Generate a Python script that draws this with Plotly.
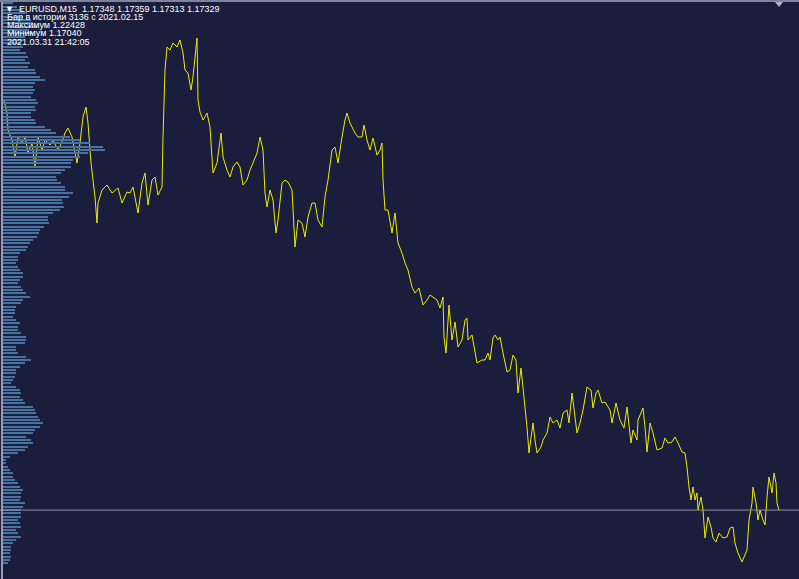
import plotly.graph_objects as go

# ---- price line (EURUSD M15), bar index vs close ----
bars = [4, 7, 8, 12, 15, 18, 22, 25, 28, 32, 35, 38, 42, 45, 50, 53, 58, 62, 65, 68,
        72, 75, 77, 80, 83, 86, 88, 91, 93, 95, 97, 98, 102, 107, 112, 115, 118, 122, 127, 130,
        133, 138, 142, 145, 148, 152, 155, 158, 162, 163, 165, 167, 170, 173, 177, 180, 183, 185, 188, 191,
        193, 197, 198, 200, 203, 207, 210, 213, 217, 221, 223, 227, 230, 233, 237, 240, 243, 247, 250, 253,
        257, 260, 263, 265, 267, 270, 273, 276, 278, 282, 285, 288, 292, 295, 298, 302, 305, 308, 312, 315,
        318, 322, 325, 328, 332, 335, 338, 342, 345, 347, 350, 355, 358, 362, 364, 367, 370, 373, 377, 380,
        382, 383, 385, 388, 392, 395, 398, 402, 405, 408, 412, 415, 419, 423, 427, 430, 433, 437, 440, 443,
        444, 446, 449, 452, 455, 458, 462, 465, 467, 468, 472, 475, 477, 482, 485, 488, 490, 493, 495, 498,
        500, 503, 507, 510, 513, 516, 518, 521, 523, 525, 527, 529, 532, 533, 535, 537, 541, 543, 547, 550,
        553, 557, 560, 563, 567, 569, 572, 575, 577, 580, 583, 587, 591, 593, 596, 598, 602, 605, 610, 612,
        616, 620, 624, 627, 631, 633, 637, 638, 643, 645, 647, 650, 653, 657, 662, 665, 668, 672, 675, 678,
        682, 685, 687, 689, 691, 693, 695, 697, 698, 701, 703, 705, 708, 711, 713, 716, 719, 723, 727, 730,
        733, 735, 738, 742, 745, 747, 749, 752, 753, 756, 758, 760, 763, 765, 767, 769, 772, 774, 776, 777,
        779]
close = [1.2143, 1.2130, 1.2113, 1.2103, 1.2086, 1.2106, 1.2100, 1.2106, 1.2090, 1.2100, 1.2076, 1.2106, 1.2093, 1.2103, 1.2098, 1.2103, 1.2093, 1.2101, 1.2110, 1.2115,
         1.2106, 1.2090, 1.2080, 1.2100, 1.2126, 1.2136, 1.2120, 1.2080, 1.2063, 1.2046, 1.2020, 1.2040, 1.2053, 1.2058, 1.2050, 1.2053, 1.2055, 1.2040, 1.2051, 1.2050,
         1.2056, 1.2030, 1.2060, 1.2070, 1.2038, 1.2063, 1.2066, 1.2048, 1.2056, 1.2106, 1.2173, 1.2196, 1.2193, 1.2200, 1.2196, 1.2203, 1.2190, 1.2173, 1.2170, 1.2153,
         1.2166, 1.2205, 1.2143, 1.2131, 1.2123, 1.2130, 1.2116, 1.2070, 1.2080, 1.2110, 1.2086, 1.2073, 1.2066, 1.2076, 1.2081, 1.2076, 1.2058, 1.2063, 1.2073, 1.2080,
         1.2090, 1.2106, 1.2093, 1.2050, 1.2036, 1.2053, 1.2043, 1.2010, 1.2023, 1.2060, 1.2063, 1.2061, 1.2053, 1.1996, 1.2023, 1.2020, 1.2006, 1.2026, 1.2040, 1.2040,
         1.2023, 1.2016, 1.2046, 1.2063, 1.2093, 1.2096, 1.2080, 1.2106, 1.2123, 1.2130, 1.2120, 1.2110, 1.2106, 1.2106, 1.2118, 1.2103, 1.2093, 1.2105, 1.2088, 1.2093,
         1.2100, 1.2063, 1.2033, 1.2033, 1.2010, 1.2030, 1.2000, 1.1990, 1.1980, 1.1973, 1.1956, 1.1950, 1.1955, 1.1938, 1.1943, 1.1948, 1.1946, 1.1943, 1.1935, 1.1946,
         1.1906, 1.1890, 1.1938, 1.1903, 1.1921, 1.1896, 1.1903, 1.1923, 1.1925, 1.1903, 1.1908, 1.1890, 1.1880, 1.1883, 1.1883, 1.1890, 1.1883, 1.1905, 1.1908, 1.1903,
         1.1906, 1.1890, 1.1871, 1.1873, 1.1888, 1.1883, 1.1850, 1.1875, 1.1856, 1.1841, 1.1816, 1.1790, 1.1810, 1.1820, 1.1803, 1.1790, 1.1796, 1.1803, 1.1810, 1.1826,
         1.1820, 1.1823, 1.1815, 1.1830, 1.1833, 1.1820, 1.1850, 1.1826, 1.1810, 1.1820, 1.1833, 1.1856, 1.1853, 1.1835, 1.1850, 1.1853, 1.1840, 1.1841, 1.1833, 1.1820,
         1.1840, 1.1823, 1.1815, 1.1836, 1.1800, 1.1813, 1.1803, 1.1823, 1.1835, 1.1816, 1.1791, 1.1820, 1.1810, 1.1793, 1.1795, 1.1805, 1.1800, 1.1801, 1.1806, 1.1800,
         1.1791, 1.1790, 1.1776, 1.1756, 1.1743, 1.1756, 1.1743, 1.1750, 1.1733, 1.1746, 1.1733, 1.1705, 1.1726, 1.1716, 1.1705, 1.1701, 1.1710, 1.1705, 1.1706, 1.1715,
         1.1716, 1.1700, 1.1690, 1.1681, 1.1688, 1.1693, 1.1723, 1.1740, 1.1756, 1.1740, 1.1723, 1.1733, 1.1723, 1.1718, 1.1746, 1.1766, 1.1750, 1.1770, 1.1760, 1.1740,
         1.17329]

# ---- volume profile (top level downward) ----
profile_top = 1.22397
profile_step = 0.00033333
volumes = [10, 14, 20, 24, 20, 28, 30, 34, 26, 30, 22, 20,
           18, 20, 17, 23, 25, 22, 27, 25, 32, 33, 37, 42, 32, 30, 32, 30, 28, 33, 35, 32,
           33, 28, 28, 32, 33, 42, 48, 53, 67, 77, 87, 100, 102, 85, 77, 70, 68, 68, 62, 58,
           53, 54, 58, 62, 62, 70, 66, 59, 60, 61, 57, 50, 45, 45, 46, 41, 37, 36, 34,
           30, 27, 25, 23, 17, 15, 15, 13, 15, 17, 20, 20, 17, 15, 18, 20, 23, 27, 20, 18,
           13, 12, 12, 10, 13, 17, 15, 15, 18, 23, 23, 22, 13, 13, 15, 23, 28, 22, 17, 13,
           13, 12, 10, 8, 13, 17, 18, 17,
           20, 22, 30, 32, 33, 35, 37, 40, 37, 32, 30, 23, 28, 30, 25, 22, 15, 7, 3, 3,
           5, 7, 10, 10, 12, 15, 17, 20, 18, 18, 17, 22, 20, 18, 18, 18, 15, 17, 18, 13,
           15, 18, 13, 10, 8, 8, 7, 8, 7, 5]
levels = [round(profile_top - i * profile_step, 6) for i in range(len(volumes))]

current_price = 1.17329

header = "\u25BC  EURUSD,M15  1.17348 1.17359 1.17313 1.17329"
info_lines = ["Бар в истории 3136 с 2021.02.15",
              "Максимум 1.22428",
              "Минимум 1.17040",
              "2021.03.31 21:42:05"]

BG = "#1a1d3b"
W, H = 799, 579
y_top, y_bot = 1.2243, 1.1664

fig = go.Figure()
fig.add_trace(go.Bar(
    x=volumes, y=levels, orientation="h", xaxis="x2", yaxis="y",
    width=0.00021, marker=dict(color="#4873a0", line=dict(width=0)),
    hoverinfo="skip", showlegend=False))
fig.add_trace(go.Scatter(
    x=bars, y=close, mode="lines", line=dict(color="#ecec00", width=1),
    hoverinfo="skip", showlegend=False))

shapes = [
    dict(type="line", xref="paper", yref="y", x0=0, x1=1, y0=current_price, y1=current_price,
         line=dict(color="#8d90a6", width=1)),
    dict(type="line", xref="paper", yref="paper", x0=2 / W, x1=2 / W, y0=0, y1=1,
         line=dict(color="#9b9db0", width=2)),
    dict(type="line", xref="paper", yref="paper", x0=0, x1=1, y0=1 - 1 / H, y1=1 - 1 / H,
         line=dict(color="#80849a", width=2)),
    dict(type="path", xref="paper", yref="paper",
         path=f"M {775/W} {1-2/H} L {783/W} {1-2/H} L {779/W} {1-7/H} Z",
         fillcolor="#a9b6c8", line=dict(width=0)),
]

annotations = []
FONT = dict(family="Liberation Sans, Arial, sans-serif", size=9, color="#ffffff")
annotations.append(dict(text=header, xref="paper", yref="paper", x=3 / W, y=1 - 8.5 / H,
                        xanchor="left", yanchor="middle", showarrow=False, font=FONT))
for i, t in enumerate(info_lines):
    annotations.append(dict(text=t, xref="paper", yref="paper", x=5 / W, y=1 - (17 + 8.2 * i) / H,
                            xanchor="left", yanchor="middle", showarrow=False, font=FONT))

fig.update_layout(
    width=W, height=H, margin=dict(l=0, r=0, t=0, b=0),
    paper_bgcolor=BG, plot_bgcolor=BG,
    xaxis=dict(range=[0, W], visible=False, fixedrange=True),
    xaxis2=dict(range=[-3, W - 3], overlaying="x", visible=False, fixedrange=True),
    yaxis=dict(range=[y_bot, y_top], visible=False, fixedrange=True),
    shapes=shapes, annotations=annotations, bargap=0,
)
fig.write_html("out.html", config={"displayModeBar": False},
               post_script="document.body.style.margin='0';document.body.style.background='" + BG + "';")
